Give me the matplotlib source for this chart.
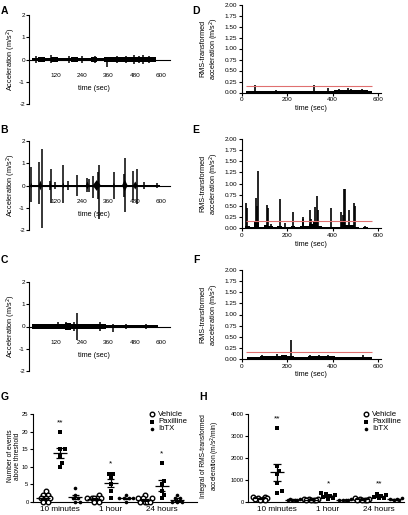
import matplotlib
matplotlib.use('Agg')
import matplotlib.pyplot as plt
import numpy as np
from matplotlib.ticker import FormatStrFormatter

plt.rcParams['font.family'] = ['Liberation Sans', 'DejaVu Sans']
plt.rcParams['axes.unicode_minus'] = False

# ---------------- data ----------------
# Raw acceleration panels (A, B, C): background band (step segments), bursts and spikes
A_band_t = [10, 40, 70, 100, 130, 160, 190, 220, 250, 280, 310, 340, 370, 400, 430, 460, 490, 520, 550, 575]
A_band_amp = [0.08, 0.09, 0.08, 0.09, 0.08, 0.08, 0.09, 0.08, 0.08, 0.09, 0.08, 0.09, 0.09, 0.10, 0.10, 0.11, 0.10, 0.10, 0.09, 0.07]
A_spike_t = [30, 97, 180, 240, 300, 355, 400, 440, 475, 500, 516, 545]
A_spike_up = [0.14, 0.22, 0.14, 0.14, 0.14, 0.12, 0.16, 0.14, 0.18, 0.16, 0.18, 0.14]
A_spike_dn = [-0.14, -0.15, -0.14, -0.14, -0.15, -0.33, -0.15, -0.15, -0.18, -0.15, -0.18, -0.14]

B_band_t = [5, 595]
B_band_amp = [0.04, 0.04]
B_burst_start = [5, 42, 92, 151, 257, 288, 381, 422, 472]
B_burst_end = [13, 58, 100, 159, 272, 326, 389, 448, 493]
B_burst_amp = [0.12, 0.22, 0.14, 0.14, 0.18, 0.24, 0.14, 0.26, 0.18]
B_spike_t = [8, 45, 56, 94, 98, 117, 155, 177, 218, 261, 273, 291, 312, 319, 386, 430, 436, 474, 489, 522, 580]
B_spike_up = [0.85, 1.05, 1.62, 0.2, 0.72, 0.15, 0.92, 0.2, 0.48, 0.35, 0.3, 0.42, 0.6, 0.9, 0.62, 0.5, 1.25, 0.65, 0.75, 0.15, 0.1]
B_spike_dn = [-0.75, -0.85, -1.9, -0.2, -0.78, -0.15, -0.8, -0.2, -0.45, -0.3, -0.3, -0.55, -0.6, -1.5, -0.6, -0.5, -1.2, -0.65, -0.85, -0.15, -0.1]

C_band_t = [10, 40, 70, 100, 130, 160, 190, 230, 260, 290, 320, 350, 380, 410, 440, 470, 500, 530, 560, 588]
C_band_amp = [0.10, 0.10, 0.11, 0.13, 0.13, 0.14, 0.13, 0.09, 0.10, 0.12, 0.12, 0.08, 0.08, 0.08, 0.07, 0.06, 0.06, 0.06, 0.05, 0.05]
C_spike_t = [130, 168, 205, 216, 320, 382, 440, 530]
C_spike_up = [0.18, 0.22, 0.2, 0.6, 0.2, 0.1, 0.1, 0.1]
C_spike_dn = [-0.12, -0.15, -0.2, -0.6, -0.2, -0.25, -0.1, -0.1]

# RMS-transformed panels (D, E, F)
D_base_t = [16, 46, 76, 106, 136, 166, 196, 226, 256, 286, 316, 346, 376, 406, 436, 466, 496, 526, 556, 572]
D_base = [0.03, 0.04, 0.04, 0.04, 0.03, 0.04, 0.03, 0.03, 0.03, 0.04, 0.04, 0.04, 0.04, 0.05, 0.05, 0.06, 0.05, 0.05, 0.04, 0.03]
D_spike_t = [59, 150, 316, 378, 430, 467, 480, 530]
D_spike_h = [0.16, 0.06, 0.16, 0.10, 0.08, 0.10, 0.08, 0.07]

E_base_t = [15, 35, 55, 75, 95, 115, 135, 155, 175, 195, 215, 235, 255, 275, 295, 315, 335, 355, 375, 395, 415, 435, 455, 475, 495, 515, 535, 555, 575]
E_base = [0.05, 0.03, 0.15, 0.03, 0.06, 0.04, 0.02, 0.04, 0.03, 0.02, 0.04, 0.02, 0.05, 0.04, 0.08, 0.15, 0.04, 0.02, 0.03, 0.02, 0.03, 0.15, 0.06, 0.06, 0.03, 0.01, 0.02, 0.01, 0.01]
E_spike_t = [19, 21, 61, 66, 69, 109, 114, 129, 169, 189, 226, 268, 271, 301, 305, 322, 330, 334, 394, 439, 445, 451, 454, 474, 495, 498, 541]
E_spike_h = [0.57, 0.45, 0.68, 0.5, 1.28, 0.52, 0.45, 0.08, 0.66, 0.12, 0.35, 0.2, 0.24, 0.4, 0.2, 0.48, 0.73, 0.4, 0.46, 0.36, 0.3, 0.87, 0.88, 0.4, 0.57, 0.5, 0.04]

F_base_t = [20, 50, 80, 110, 140, 170, 200, 230, 260, 290, 320, 350, 380, 410, 440, 470, 500, 530, 560, 575]
F_base = [0.04, 0.05, 0.06, 0.06, 0.07, 0.09, 0.07, 0.05, 0.05, 0.06, 0.06, 0.07, 0.06, 0.05, 0.05, 0.05, 0.04, 0.04, 0.04, 0.04]
F_spike_t = [90, 156, 216, 300, 340, 378, 532]
F_spike_h = [0.08, 0.12, 0.42, 0.08, 0.09, 0.10, 0.08]

threshold = 0.15

raw_xticks = [120, 240, 360, 480, 600]
raw_yticks = [-2, -1, 0, 1, 2]
rms_xticks = [0, 200, 400, 600]
rms_yticks = [0, 0.25, 0.5, 0.75, 1.0, 1.25, 1.5, 1.75, 2.0]

# Summary panels (G, H)
categories = ['10 minutes', '1 hour', '24 hours']
treatments = ['Vehicle', 'Paxilline', 'IbTX']
G_vehicle = [[3, 2, 2, 1, 1, 1, 0, 0], [2, 1, 1, 1, 1, 1, 0, 0], [2, 1, 1, 0, 0, 0, 0, 1]]
G_paxilline = [[20, 15, 15, 13, 11, 10], [8, 8, 7, 5, 3, 1], [11, 6, 5, 3, 2, 1]]
G_ibtx = [[4, 2, 1, 1, 0, 0], [2, 1, 1, 1, 1, 0], [2, 1, 1, 0, 0, 0]]
G_stars = ['**', '*', '*']
G_star_y = [22.5, 10.8, 13.8]
G_yticks = [0, 5, 10, 15, 20, 25]

H_vehicle = [[250, 230, 200, 170, 150, 120, 100, 90], [150, 130, 120, 110, 100, 90, 80], [160, 140, 120, 110, 100, 90, 80]]
H_paxilline = [[3350, 1650, 1420, 1270, 880, 480, 420], [420, 350, 300, 260, 220, 180, 150], [380, 300, 260, 220, 200, 160]]
H_ibtx = [[150, 130, 110, 100, 90, 80], [130, 110, 100, 90, 80], [170, 140, 120, 100, 90]]
H_stars = ['**', '*', '**']
H_star_y = [3800, 830, 830]
H_yticks = [0, 1000, 2000, 3000, 4000]

# ---------------- figure ----------------
W, H = 408, 515
fig = plt.figure(figsize=(W / 100, H / 100), dpi=100)


def add_ax(l, t, r, b):
    return fig.add_axes([l / W, 1 - b / H, (r - l) / W, (b - t) / H])


def ftext(x, y, s, **kw):
    fig.text(x / W, 1 - y / H, s, **kw)


TICK = 4.6
LAB = 5.2
SPW = 0.8


def style(ax):
    for s in ['top', 'right']:
        ax.spines[s].set_visible(False)
    for s in ['left', 'bottom']:
        ax.spines[s].set_linewidth(SPW)


def raw_panel(ax, band_t, band_amp, sp_t, sp_up, sp_dn, bursts=None):
    style(ax)
    t = np.array(band_t, float)
    a = np.array(band_amp, float)
    ax.fill_between(t, -a, a, step='post', color='black', lw=0)
    if bursts is not None:
        for s, e, amp in zip(*bursts):
            mid = 0.5 * (s + e)
            ax.fill([s, mid, e, mid], [0, amp, 0, -amp], color='black', lw=0)
    ax.vlines(sp_t, sp_dn, sp_up, color='black', lw=1.1)
    ax.set_xlim(0, 640)
    ax.set_ylim(-2, 2)
    ax.spines['bottom'].set_position(('data', 0))
    ax.set_xticks(raw_xticks)
    ax.set_yticks(raw_yticks)
    ax.tick_params(axis='x', length=0, pad=9.5, labelsize=TICK)
    ax.tick_params(axis='y', length=2.2, width=SPW, pad=1, labelsize=TICK)
    ax.text(295, -1.3, 'time (sec)', ha='center', va='center', fontsize=LAB)


def rms_panel(ax, base_t, base, sp_t, sp_h):
    style(ax)
    ax.fill_between(base_t, 0, base, step='post', color='black', lw=0)
    ax.vlines(sp_t, 0, sp_h, color='black', lw=1.2)
    ax.hlines(threshold, 18, 575, color='#e07070', lw=0.8, zorder=3)
    ax.set_xlim(0, 612)
    ax.set_ylim(0, 2)
    ax.set_xticks(rms_xticks)
    ax.set_yticks(rms_yticks)
    ax.yaxis.set_major_formatter(FormatStrFormatter('%.2f'))
    ax.tick_params(axis='both', length=2.2, width=SPW, pad=1.2, labelsize=TICK)
    ax.set_xlabel('time (sec)', fontsize=LAB, labelpad=2)


# Panels A-C
axA = add_ax(29.4, 15, 169.8, 104)
raw_panel(axA, A_band_t, A_band_amp, A_spike_t, A_spike_up, A_spike_dn)
axB = add_ax(29.4, 141, 169.8, 230)
raw_panel(axB, B_band_t, B_band_amp, B_spike_t, B_spike_up, B_spike_dn,
          bursts=(B_burst_start, B_burst_end, B_burst_amp))
axC = add_ax(29.4, 282, 169.8, 371)
raw_panel(axC, C_band_t, C_band_amp, C_spike_t, C_spike_up, C_spike_dn)
for yc in [59.5, 185.5, 326.5]:
    ftext(11, yc, 'Acceleration (m/s$^2$)', rotation=90, ha='center', va='center', fontsize=LAB)

# Panels D-F
axD = add_ax(242, 4.5, 380.7, 92.5)
rms_panel(axD, D_base_t, D_base, D_spike_t, D_spike_h)
axE = add_ax(242, 139, 380.7, 228)
rms_panel(axE, E_base_t, E_base, E_spike_t, E_spike_h)
axF = add_ax(242, 270, 380.7, 359)
rms_panel(axF, F_base_t, F_base, F_spike_t, F_spike_h)
for yc in [48.5, 183.5, 314.5]:
    ftext(210, yc, 'RMS-transformed\nacceleration (m/s$^2$)', rotation=90, ha='center',
          va='center', fontsize=LAB, linespacing=1.1)

# Panels G-H
offsets = [-0.33, 0.0, 0.3]
markers = [dict(marker='o', ms=3.3, mfc='white', mec='black', mew=1.0),
           dict(marker='s', ms=3.0, mfc='black', mec='black', mew=0),
           dict(marker='o', ms=2.6, mfc='black', mec='black', mew=0)]


def swarm_offsets(vals, ppu_y, ppu_x, diam, maxoff=8.0):
    """Horizontal spread of overlapping points (layout only), in x data units."""
    placed = []
    order = np.argsort(vals)
    out = [0.0] * len(vals)
    step = diam * 0.6
    cands = [0.0]
    k = 1
    while k * step <= maxoff:
        cands += [k * step, -k * step]
        k += 1
    for i in order:
        y = vals[i] * ppu_y
        best, bestd = 0.0, -1
        for c in cands:
            d = min([np.hypot(c - px, y - py) for px, py in placed] or [1e9])
            if d >= diam:
                best = c
                break
            if d > bestd:
                best, bestd = c, d
        placed.append((best, y))
        out[i] = best / ppu_x
    return out


def dot_panel(ax, data, ymax, yticks, stars, star_y, xlim, ppu_y):
    style(ax)
    ppu_x = 51.0
    for ti, tdata in enumerate(data):
        for ci, vals in enumerate(tdata):
            vals = np.array(vals, float)
            x0 = ci + offsets[ti]
            offs = swarm_offsets(vals, ppu_y, ppu_x, 4.0)
            ax.plot(x0 + np.array(offs), vals, ls='none', clip_on=False, zorder=3, **markers[ti])
            m = vals.mean()
            sem = vals.std(ddof=1) / np.sqrt(len(vals))
            ax.hlines(m, x0 - 0.14, x0 + 0.14, color='black', lw=0.9, zorder=4)
            ax.vlines(x0, m - sem, m + sem, color='black', lw=0.9, zorder=4)
            ax.hlines([m - sem, m + sem], x0 - 0.07, x0 + 0.07, color='black', lw=0.9, zorder=4)
    for ci in range(3):
        ax.text(ci, star_y[ci], stars[ci], ha='center', va='center', fontsize=6)
    ax.set_xlim(*xlim)
    ax.set_ylim(0, ymax)
    ax.set_xticks(range(3))
    ax.set_xticklabels(categories)
    ax.set_yticks(yticks)
    ax.tick_params(axis='x', length=0, pad=3.0, labelsize=5.9)
    ax.tick_params(axis='y', length=2.2, width=SPW, pad=1, labelsize=4.2)


axG = add_ax(33, 414, 197, 502)
dot_panel(axG, [G_vehicle, G_paxilline, G_ibtx], 25, G_yticks, G_stars, G_star_y,
          (-0.53, 2.69), 88 / 25)
axH = add_ax(248, 414, 404, 502)
dot_panel(axH, [H_vehicle, H_paxilline, H_ibtx], 4000, H_yticks, H_stars, H_star_y,
          (-0.57, 2.49), 88 / 4000)
ftext(14, 456, 'Number of events\nabove threshold', rotation=90, ha='center', va='center',
      fontsize=4.8, linespacing=1.1)
ftext(211, 456, 'Integral of RMS-transformed\nacceleration (m/s$^2$/min)', rotation=90,
      ha='center', va='center', fontsize=4.8, linespacing=1.1)

# legends
for lx in [152, 366]:
    for k, (name, ly) in enumerate(zip(treatments, [414, 421.5, 429])):
        fig.lines.append(matplotlib.lines.Line2D([lx / W], [1 - ly / H], transform=fig.transFigure,
                                                 ls='none', **markers[k]))
        ftext(lx + 6, ly, name, ha='left', va='center', fontsize=5.6)

# panel letters
for letter, x, y in [('A', 4.5, 11), ('B', 4.5, 130), ('C', 4.5, 260),
                     ('D', 196, 11), ('E', 196, 130), ('F', 196, 260),
                     ('G', 4.5, 397), ('H', 203, 397)]:
    ftext(x, y, letter, ha='center', va='center', fontsize=7.5, fontweight='bold')

fig.savefig('out.png', dpi=100)
